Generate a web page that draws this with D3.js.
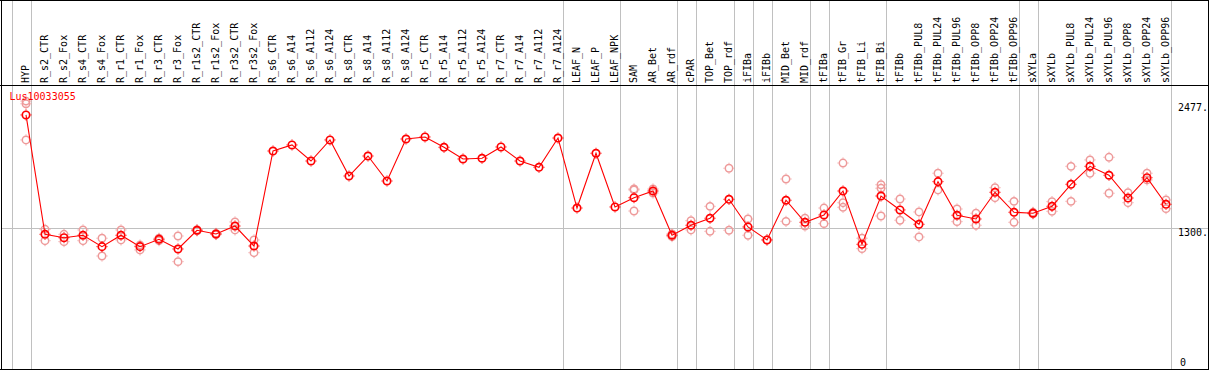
<!DOCTYPE html>
<html>
<head>
<meta charset="utf-8">
<script src="https://cdn.jsdelivr.net/npm/d3@7"></script>
<style>
  html, body { margin: 0; padding: 0; background: #fff; }
  svg { display: block; }
  text { font-family: "DejaVu Sans Mono", "Liberation Mono", monospace; font-size: 10px; }
</style>
</head>
<body>
<svg id="chart" width="1209" height="370"></svg>
<script>
const categories = ["HYP","R_s2_CTR","R_s2_Fox","R_s4_CTR","R_s4_Fox","R_r1_CTR","R_r1_Fox","R_r3_CTR","R_r3_Fox",
  "R_r1s2_CTR","R_r1s2_Fox","R_r3s2_CTR","R_r3s2_Fox","R_s6_CTR","R_s6_A14","R_s6_A112","R_s6_A124",
  "R_s8_CTR","R_s8_A14","R_s8_A112","R_s8_A124","R_r5_CTR","R_r5_A14","R_r5_A112","R_r5_A124",
  "R_r7_CTR","R_r7_A14","R_r7_A112","R_r7_A124","LEAF_N","LEAF_P","LEAF_NPK","SAM","AR_Bet","AR_rdf",
  "cPAR","TOP_Bet","TOP_rdf","iFIBa","iFIBb","MID_Bet","MID_rdf","tFIBa","tFIB_Gr","tFIB_Li","tFIB_Bi",
  "tFIBb","tFIBb_PUL8","tFIBb_PUL24","tFIBb_PUL96","tFIBb_OPP8","tFIBb_OPP24","tFIBb_OPP96",
  "sXYLa","sXYLb","sXYLb_PUL8","sXYLb_PUL24","sXYLb_PUL96","sXYLb_OPP8","sXYLb_OPP24","sXYLb_OPP96"];

const meanValues = [2360,1238,1206,1229,1122,1229,1122,1191,1100,1276,1241,1316,1128,
  2021,2078,1927,2125,1786,1974,1739,2134,2153,2056,1946,1953,2059,1927,1868,2143,
  1485,2000,1495,1582,1645,1229,1323,1389,1567,1307,1185,1558,1351,1420,1645,1144,1598,
  1467,1332,1733,1417,1382,1633,1445,1436,1501,1708,1877,1793,1579,1770,1520];

const replicateValues = [
  [2490,2465,2125],[1285,1178],[1238,1169],[1279,1178],[1201,1034],[1279,1185],[1137,1091],[1201,1178],[1222,981],
  [1270,1282],[1235,1247],[1354,1279],[1185,1065],
  [],[],[],[],[],[],[],[],[],[],[],[],[],[],[],[],
  [],[],[],
  [1664,1655,1457],[1664,1626],[1216,1241],[1366,1279],[1501,1266],[1859,1276],[1382,1229],[1185],
  [1758,1360],[1389,1316],[1485,1338],[1908,1535,1492],[1201,1103],[1704,1671,1410],
  [1570,1370],[1448,1213],[1812,1655],[1476,1357],[1436,1323],[1676,1582],[1548,1351],
  [1445,1430],[1545,1454],[1877,1548],[1937,1812],[1962,1624],[1629,1535],[1812,1749],[1561,1479]
];

const geneLabel = "Lus10033055";
const yTickValues = [0, 1300, 2477];
const yTickLabels = ["0", "1300.", "2477."];
const groupEnds = ["HYP","R_r7_A124","LEAF_NPK","AR_rdf","cPAR","TOP_rdf","iFIBa","iFIBb","MID_rdf",
  "tFIBa","tFIB_Bi","tFIBb_OPP96","sXYLa","sXYLb_OPP96"];

const W = 1209, H = 370;
const svg = d3.select("#chart");

const x = d3.scaleBand().domain(categories).range([11.5, 11.5 + categories.length * 19]).padding(0);
const px = c => x(c) + 14.5;
const y = d3.scaleLinear().domain([0, 2477]).range([366, 102.5]);

const gray = "#c0c0c0";

// vertical group dividers
const divX = [x(categories[0])].concat(groupEnds.map(c => x(c) + x.bandwidth()));
svg.append("g").selectAll("line").data(divX).join("line")
  .attr("x1", d => Math.round(d) + 0.5).attr("x2", d => Math.round(d) + 0.5)
  .attr("y1", 0).attr("y2", H)
  .attr("stroke", gray).attr("stroke-width", 1).attr("shape-rendering", "crispEdges");

// horizontal reference line at 1300
svg.append("line")
  .attr("x1", 1).attr("x2", 1208)
  .attr("y1", Math.round(y(1300)) + 0.5).attr("y2", Math.round(y(1300)) + 0.5)
  .attr("stroke", gray).attr("stroke-width", 1).attr("shape-rendering", "crispEdges");

// frame
const frame = svg.append("g").attr("stroke", "#000").attr("stroke-width", 1).attr("shape-rendering", "crispEdges");
frame.append("line").attr("x1", 0).attr("x2", W).attr("y1", 0.5).attr("y2", 0.5);
frame.append("line").attr("x1", 1.5).attr("x2", 1.5).attr("y1", 0).attr("y2", H);
frame.append("line").attr("x1", 1208.5).attr("x2", 1208.5).attr("y1", 0).attr("y2", H);
frame.append("line").attr("x1", 0).attr("x2", W).attr("y1", 85.5).attr("y2", 85.5);
frame.append("line").attr("x1", 0).attr("x2", W).attr("y1", 369.5).attr("y2", 369.5);

// category labels (rotated)
svg.append("g").selectAll("text").data(categories).join("text")
  .attr("transform", c => `translate(${px(c) + 3},83) rotate(-90)`)
  .attr("text-anchor", "start")
  .attr("fill", "#000")
  .text(c => c);

// y tick labels on the right
svg.append("g").selectAll("text").data(yTickValues).join("text")
  .attr("x", (d, i) => i === 0 ? 1180 : 1178)
  .attr("y", d => d === 0 ? y(d) : y(d) + 8.5)
  .attr("fill", "#000")
  .text((d, i) => yTickLabels[i]);

// replicate markers
const repData = [];
categories.forEach((c, i) => replicateValues[i].forEach(v => repData.push({c, v})));

function marker(g, color, sw) {
  g.append("circle").attr("r", 3.7).attr("fill", "none").attr("stroke", color).attr("stroke-width", sw);
  g.append("path").attr("d", "M0,-5.5V-4.5M0,4.5V5.5M-5.5,0H-4.5M4.5,0H5.5")
    .attr("stroke", color).attr("stroke-width", 1).attr("fill", "none");
}

svg.append("g").selectAll("g").data(repData).join("g")
  .attr("transform", d => `translate(${px(d.c)},${y(d.v)})`)
  .each(function() { marker(d3.select(this), "#ee9a9a", 1.5); });

// mean line
const line = d3.line().x((d, i) => px(categories[i])).y(d => y(d));
svg.append("path").datum(meanValues)
  .attr("d", line).attr("fill", "none").attr("stroke", "#ff0000").attr("stroke-width", 1.1);

// mean markers
svg.append("g").selectAll("g").data(meanValues).join("g")
  .attr("transform", (d, i) => `translate(${px(categories[i])},${y(d)})`)
  .each(function() { marker(d3.select(this), "#ff0000", 1.7); });

// gene label
svg.append("text").attr("x", 9.5).attr("y", 100).attr("fill", "#ff0000").text(geneLabel);
</script>
</body>
</html>
